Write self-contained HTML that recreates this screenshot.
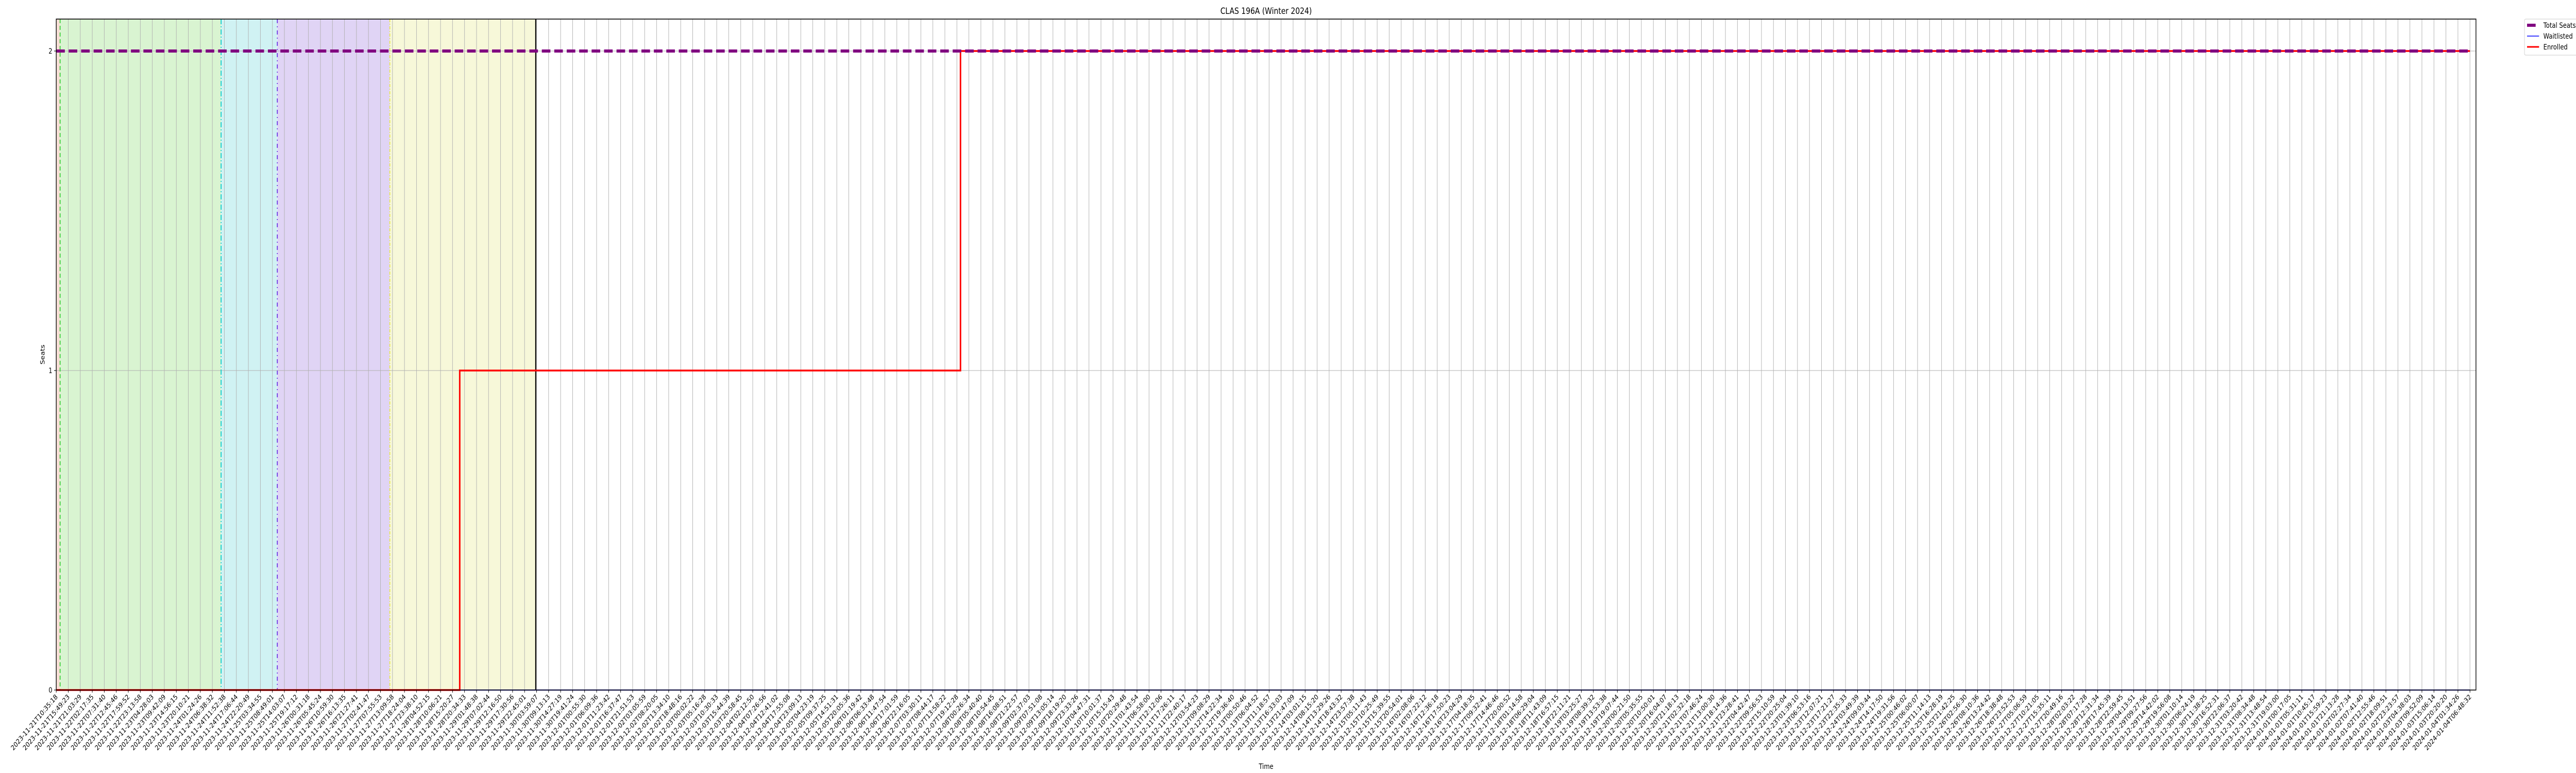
<!DOCTYPE html>
<html><head><meta charset="utf-8">
<style>
html,body{margin:0;padding:0;background:#fff;width:100%;height:100%;overflow:hidden;}
svg{display:block;width:100vw;height:100vh;font-family:"DejaVu Sans","Liberation Sans",sans-serif;}
</style></head>
<body>
<svg id="chart" viewBox="0 0 6000 1500" preserveAspectRatio="none" xmlns="http://www.w3.org/2000/svg">
<g id="bands"></g>
<g id="grid"></g>
<g id="marks"></g>
<rect x="131" y="37" width="5636" height="1302" fill="none" stroke="#000" stroke-width="1.6"/>
<g id="xticks"></g>
<g id="yticks"></g>
<text x="2949" y="27" font-size="16.7" text-anchor="middle">CLAS 196A (Winter 2024)</text>
<text x="2949" y="1492" font-size="13.9" text-anchor="middle">Time</text>
<text x="0" y="0" font-size="13.9" text-anchor="middle" transform="translate(104,688) rotate(-90)">Seats</text>
<g>
<rect x="5880" y="37" width="125" height="70" rx="3" fill="#fff" stroke="#ccc"/>
<line x1="5886" y1="49" x2="5906" y2="49" stroke="#800080" stroke-width="6"/>
<text x="5924" y="54" font-size="13.9">Total Seats</text>
<line x1="5886" y1="70" x2="5914" y2="70" stroke="#0000ff" stroke-width="1.5"/>
<text x="5924" y="75" font-size="13.9">Waitlisted</text>
<line x1="5886" y1="91" x2="5914" y2="91" stroke="#ff0000" stroke-width="3"/>
<text x="5924" y="96" font-size="13.9">Enrolled</text>
</g>
</svg>
<script>
// data (x in sample-index units)
const startTime = "2023-11-21T10:35:18";
const endTime = "2024-01-04T06:48:32";
const sampleCount = 202;
const yTicks = [0, 1, 2];
const totalSeats = [2, 2];
const totalSeatsIdx = [0, 201];
const enrolledIdx = [0, 33.6, 33.6, 75.3, 75.3, 201];
const enrolledVals = [0, 0, 1, 1, 2, 2];
const waitlistIdx = [0, 201];
const waitlistVals = [0, 0];
const phaseStarts = [0, 0.32, 13.73, 18.41, 27.78];
const phaseEnds = [0.32, 13.73, 18.41, 27.78, 39.93];
const phaseColors = ["#f7dfd6", "#d9f4d1", "#d0f2f3", "#e0d4f5", "#f7f8d9"];
const phaseLineIdx = [0.32, 13.73, 18.41, 27.78, 39.93];
const phaseLineColors = ["#33cc33", "#00cccc", "#6a2be2", "#e8e84a", "#000000"];
const phaseLineDash = ["8,5", "10,4,2,4", "8,6,2,6", "6,3,2,3", ""];

const NS = "http://www.w3.org/2000/svg";
const X0 = 131, XSTEP = (5753 - 131) / 201;
const Y0 = 1339, YSTEP = 620;
const xs = i => X0 + i * XSTEP;
const ys = v => Y0 - v * YSTEP;
function mk(tag, attrs, parent) {
  const e = document.createElementNS(NS, tag);
  for (const k in attrs) e.setAttribute(k, attrs[k]);
  parent.appendChild(e); return e;
}
const bands = document.getElementById('bands');
phaseStarts.forEach((s, i) => {
  const r = mk('rect', {x: xs(s), y: 37, width: xs(phaseEnds[i]) - xs(s), height: 1302, fill: phaseColors[i]}, bands);
  
  
});
const t0 = Date.parse(startTime + "Z"), t1 = Date.parse(endTime + "Z");
const tickLabels = [];
for (let i = 0; i < sampleCount; i++) {
  const t = new Date(t0 + (t1 - t0) * i / (sampleCount - 1));
  tickLabels.push(t.toISOString().slice(0, 19));
}
const grid = document.getElementById('grid');
const xt = document.getElementById('xticks');
tickLabels.forEach((lab, i) => {
  const x = xs(i);
  const g = mk('line', {x1: x, y1: 37, x2: x, y2: Y0, stroke: '#b0b0b0', 'stroke-width': 1.1}, grid);
  
  
  const tk = mk('line', {x1: x, y1: Y0, x2: x, y2: Y0 + 5, stroke: '#000', 'stroke-width': 1.1}, xt);
  
  
  const tx = mk('text', {x: 0, y: 0, 'font-size': 13.5, 'text-anchor': 'end', transform: `translate(${x + 4},${Y0 + 14}) rotate(-45)`}, xt);
  tx.textContent = lab;
  
  
});
const yt = document.getElementById('yticks');
yTicks.forEach(v => {
  const y = ys(v);
  const g = mk('line', {x1: X0, y1: y, x2: 5767, y2: y, stroke: '#b0b0b0', 'stroke-width': 1.1}, grid);
  
  
  const tk = mk('line', {x1: X0 - 5, y1: y, x2: X0, y2: y, stroke: '#000', 'stroke-width': 1.1}, yt);
  
  
  const tx = mk('text', {x: X0 - 9, y: y + 5, 'font-size': 13.9, 'text-anchor': 'end'}, yt);
  tx.textContent = v;
  
  
});
const marks = document.getElementById('marks');
phaseLineIdx.forEach((p, i) => {
  const attrs = {x1: xs(p), y1: 37, x2: xs(p), y2: Y0, stroke: phaseLineColors[i], 'stroke-width': i === 4 ? 2.5 : 2};
  if (phaseLineDash[i]) attrs['stroke-dasharray'] = phaseLineDash[i];
  const l = mk('line', attrs, marks);
  
  
});
const pts = (idx, vals) => idx.map((v, i) => xs(v) + ',' + ys(vals[i])).join(' ');
const wl = mk('polyline', {points: pts(waitlistIdx, waitlistVals), fill: 'none', stroke: '#0000ff', 'stroke-width': 2}, marks);


const en = mk('polyline', {points: pts(enrolledIdx, enrolledVals), fill: 'none', stroke: '#ff0000', 'stroke-width': 3.5}, marks);


const ts = mk('polyline', {points: pts(totalSeatsIdx, totalSeats), fill: 'none', stroke: '#800080', 'stroke-width': 6, 'stroke-dasharray': '20,9'}, marks);


</script>
</body></html>
